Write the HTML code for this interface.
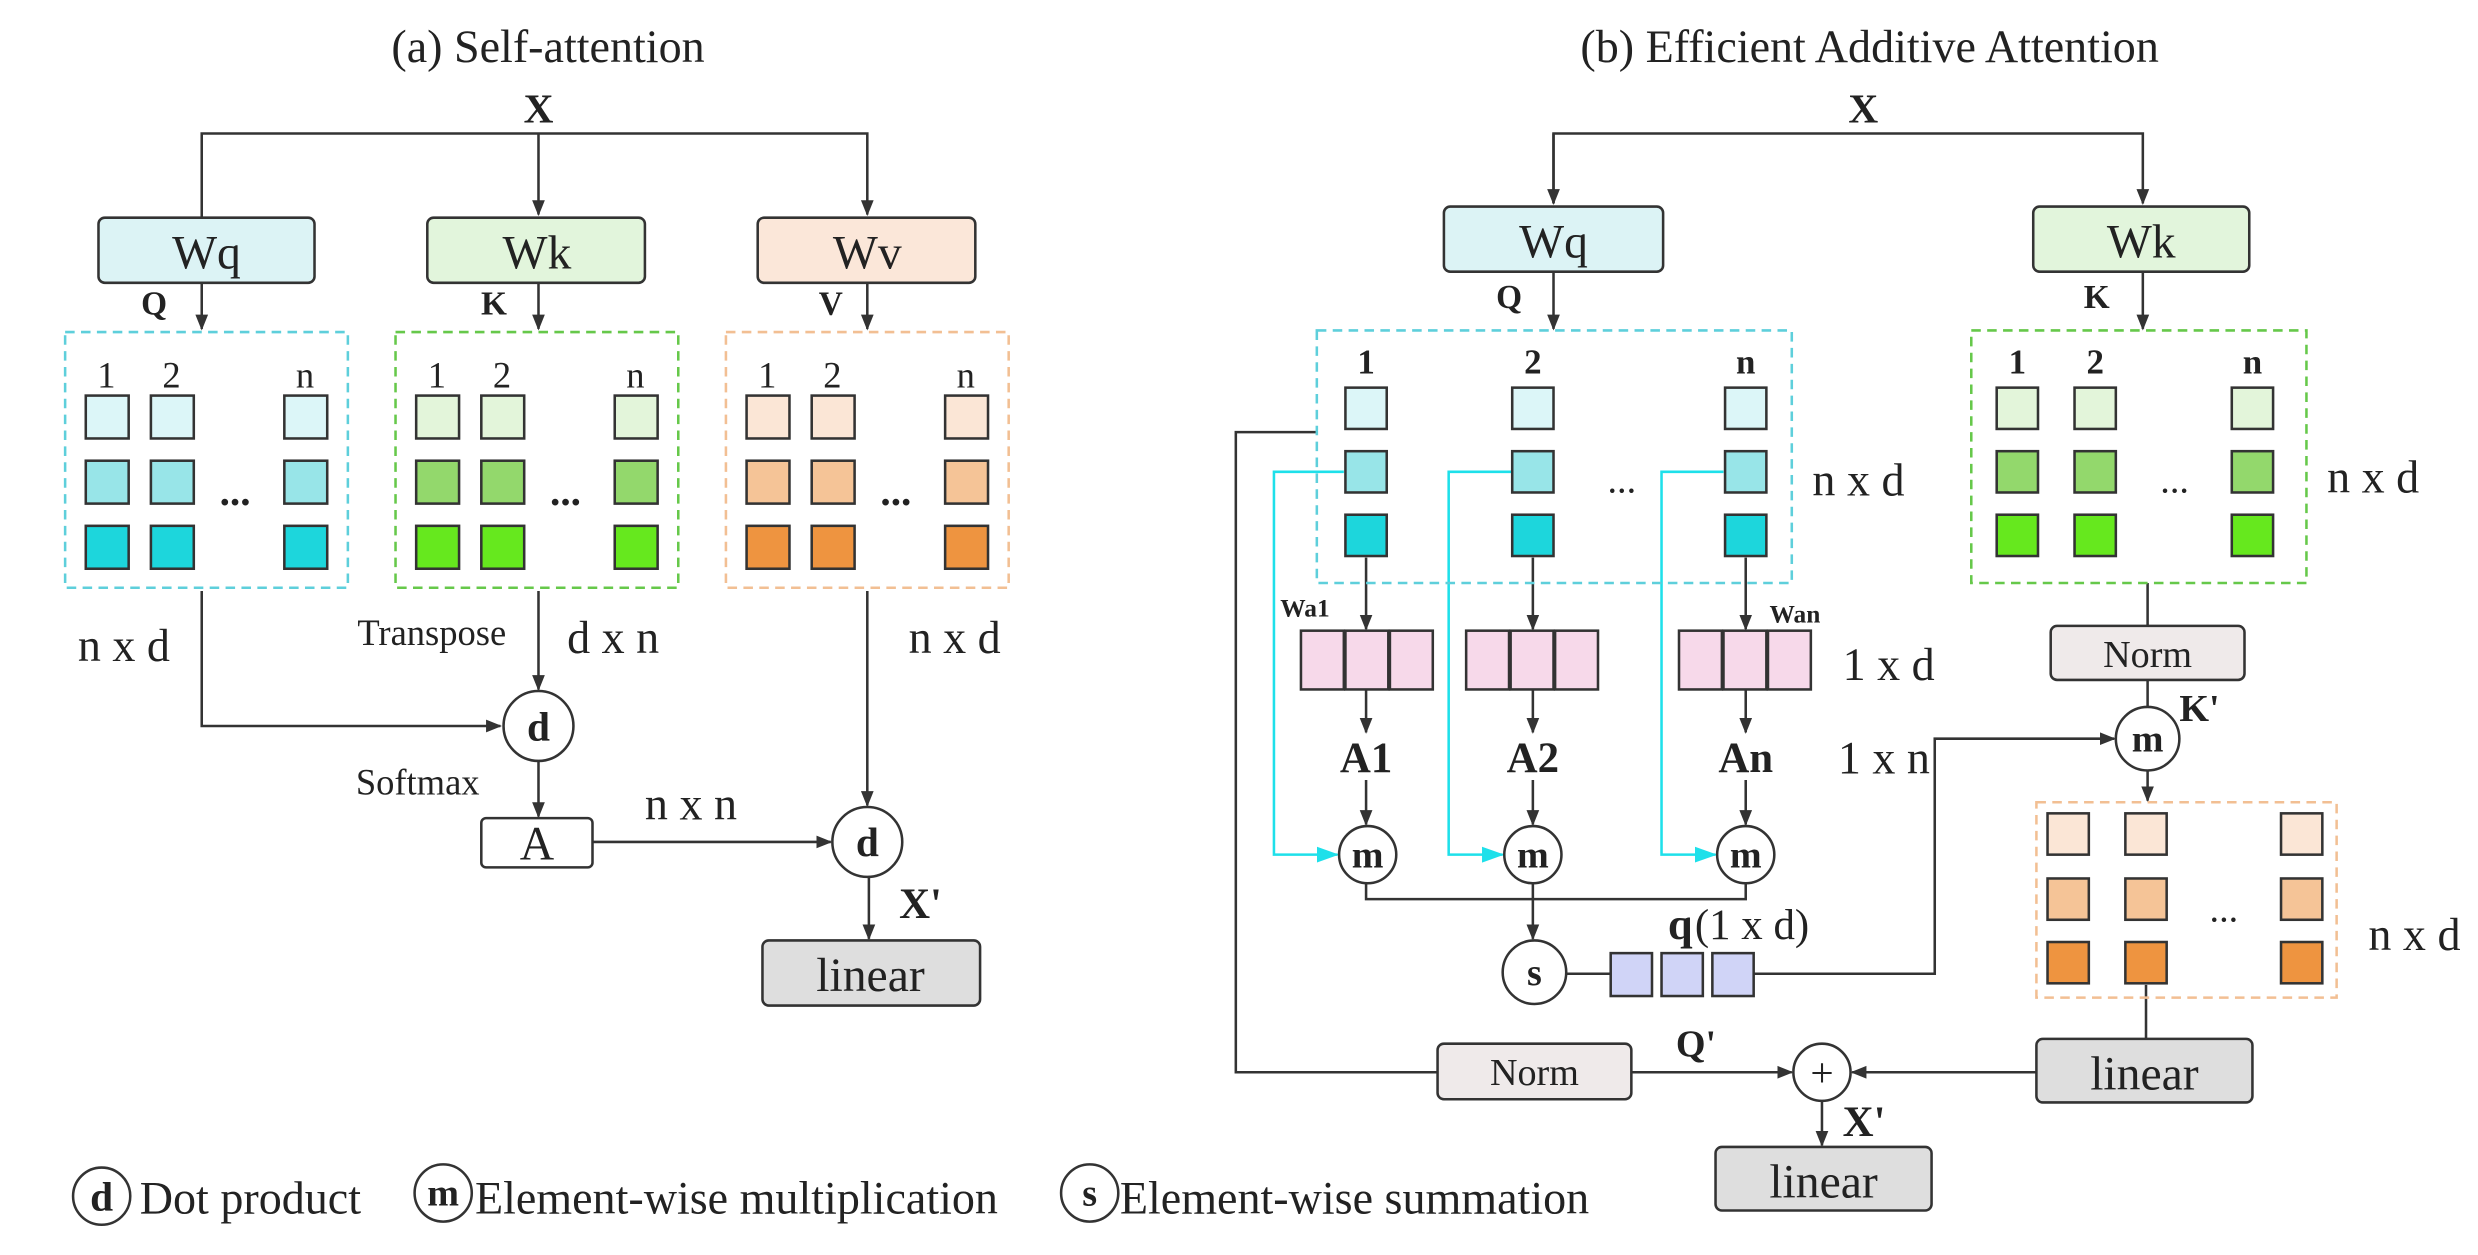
<!DOCTYPE html>
<html><head><style>
html,body{margin:0;padding:0;background:#fff;}
svg{display:block;}
text{font-family:"Liberation Serif",serif;fill:#222;}
</style></head><body>
<svg width="2478" height="1255" viewBox="0 0 1560 790" xmlns="http://www.w3.org/2000/svg">
<defs>
<marker id="ar" markerWidth="10" markerHeight="10" refX="9" refY="5" orient="auto" markerUnits="userSpaceOnUse"><path d="M0,1 L10,5 L0,9 z" fill="#333"/></marker>
<marker id="ac" markerWidth="14" markerHeight="12" refX="13" refY="6" orient="auto" markerUnits="userSpaceOnUse"><path d="M0,1 L14,6 L0,11 z" fill="#1ee0ea"/></marker>
</defs>
<g stroke="#333" stroke-width="1.6" fill="none">
<path d="M127,137 V84 H546 V135" marker-end="url(#ar)"/>
<path d="M339,84 V135" marker-end="url(#ar)"/>
<path d="M127,178 V207" marker-end="url(#ar)"/>
<path d="M339,178 V207" marker-end="url(#ar)"/>
<path d="M546,178 V207" marker-end="url(#ar)"/>
<path d="M127,372 V457 H315" marker-end="url(#ar)"/>
<path d="M339,372 V434" marker-end="url(#ar)"/>
<path d="M339,479 V514" marker-end="url(#ar)"/>
<path d="M373,530 H523" marker-end="url(#ar)"/>
<path d="M546,372 V507" marker-end="url(#ar)"/>
<path d="M547,552 V591" marker-end="url(#ar)"/>
<path d="M978,128 V84 H1349 V128" marker-end="url(#ar)"/>
<path d="M978,84 V128" marker-end="url(#ar)"/>
<path d="M978,171 V207" marker-end="url(#ar)"/>
<path d="M1349,171 V207" marker-end="url(#ar)"/>
<path d="M860,351 V396" marker-end="url(#ar)"/>
<path d="M965,351 V396" marker-end="url(#ar)"/>
<path d="M1099,351 V396" marker-end="url(#ar)"/>
<path d="M860,434 V461" marker-end="url(#ar)"/>
<path d="M965,434 V461" marker-end="url(#ar)"/>
<path d="M1099,434 V461" marker-end="url(#ar)"/>
<path d="M860,491 V519" marker-end="url(#ar)"/>
<path d="M965,491 V519" marker-end="url(#ar)"/>
<path d="M1099,491 V519" marker-end="url(#ar)"/>
<path d="M860,556 V566 H1099 V556"/>
<path d="M965,556 V591" marker-end="url(#ar)"/>
<path d="M986,613 H1014"/>
<path d="M1104,613 H1218 V465 H1331" marker-end="url(#ar)"/>
<path d="M1352,367 V394"/>
<path d="M1352,428 V445"/>
<path d="M1352,485 V504" marker-end="url(#ar)"/>
<path d="M1351,620 V654"/>
<path d="M1282,675 H1166" marker-end="url(#ar)"/>
<path d="M829,272 H778 V675 H905"/>
<path d="M1027,675 H1128" marker-end="url(#ar)"/>
<path d="M1147,693 V721" marker-end="url(#ar)"/>
</g>
<g stroke="#1ee0ea" stroke-width="1.6" fill="none">
<path d="M846,297 H802 V538 H842" marker-end="url(#ac)"/>
<path d="M952,297 H912 V538 H946" marker-end="url(#ac)"/>
<path d="M1085,297 H1046 V538 H1080" marker-end="url(#ac)"/>
</g>
<g stroke="#333" stroke-width="1.6">
<rect x="62" y="137" width="136" height="41" rx="4" fill="#dcf3f5"/>
<rect x="269" y="137" width="137" height="41" rx="4" fill="#e2f5dc"/>
<rect x="477" y="137" width="137" height="41" rx="4" fill="#fbe7d9"/>
<rect x="303" y="515" width="70" height="31" rx="3" fill="#fff"/>
<rect x="480" y="592" width="137" height="41" rx="4" fill="#dedede"/>
<rect x="909" y="130" width="138" height="41" rx="4" fill="#dcf3f5"/>
<rect x="1280" y="130" width="136" height="41" rx="4" fill="#e2f5dc"/>
<rect x="1291" y="394" width="122" height="34" rx="4" fill="#efeaea"/>
<rect x="1282" y="654" width="136" height="40" rx="4" fill="#dedede"/>
<rect x="905" y="657" width="122" height="35" rx="4" fill="#efeaea"/>
<rect x="1080" y="722" width="136" height="40" rx="4" fill="#dedede"/>
</g>
<g fill="none" stroke-width="1.6" stroke-dasharray="6,4">
<rect x="41" y="209" width="178" height="161" stroke="#5ecfdb"/>
<rect x="249" y="209" width="178" height="161" stroke="#66c84a"/>
<rect x="457" y="209" width="178" height="161" stroke="#f2bf93"/>
<rect x="829" y="208" width="299" height="159" stroke="#5ecfdb"/>
<rect x="1241" y="208" width="211" height="159" stroke="#66c84a"/>
<rect x="1282" y="505" width="189" height="123" stroke="#f2bf93"/>
</g>
<g stroke="#333" stroke-width="1.6">
<g fill="#dcf6f8"><rect x="54" y="249" width="27" height="27"/><rect x="95" y="249" width="27" height="27"/><rect x="179" y="249" width="27" height="27"/></g>
<g fill="#98e5e8"><rect x="54" y="290" width="27" height="27"/><rect x="95" y="290" width="27" height="27"/><rect x="179" y="290" width="27" height="27"/></g>
<g fill="#1dd6dc"><rect x="54" y="331" width="27" height="27"/><rect x="95" y="331" width="27" height="27"/><rect x="179" y="331" width="27" height="27"/></g>
<g fill="#e3f5da"><rect x="262" y="249" width="27" height="27"/><rect x="303" y="249" width="27" height="27"/><rect x="387" y="249" width="27" height="27"/></g>
<g fill="#93d86c"><rect x="262" y="290" width="27" height="27"/><rect x="303" y="290" width="27" height="27"/><rect x="387" y="290" width="27" height="27"/></g>
<g fill="#66e81e"><rect x="262" y="331" width="27" height="27"/><rect x="303" y="331" width="27" height="27"/><rect x="387" y="331" width="27" height="27"/></g>
<g fill="#fbe6d6"><rect x="470" y="249" width="27" height="27"/><rect x="511" y="249" width="27" height="27"/><rect x="595" y="249" width="27" height="27"/></g>
<g fill="#f5c497"><rect x="470" y="290" width="27" height="27"/><rect x="511" y="290" width="27" height="27"/><rect x="595" y="290" width="27" height="27"/></g>
<g fill="#ee9440"><rect x="470" y="331" width="27" height="27"/><rect x="511" y="331" width="27" height="27"/><rect x="595" y="331" width="27" height="27"/></g>
<g fill="#dcf6f8"><rect x="847" y="244" width="26" height="26"/><rect x="952" y="244" width="26" height="26"/><rect x="1086" y="244" width="26" height="26"/></g>
<g fill="#98e5e8"><rect x="847" y="284" width="26" height="26"/><rect x="952" y="284" width="26" height="26"/><rect x="1086" y="284" width="26" height="26"/></g>
<g fill="#1dd6dc"><rect x="847" y="324" width="26" height="26"/><rect x="952" y="324" width="26" height="26"/><rect x="1086" y="324" width="26" height="26"/></g>
<g fill="#e3f5da"><rect x="1257" y="244" width="26" height="26"/><rect x="1306" y="244" width="26" height="26"/><rect x="1405" y="244" width="26" height="26"/></g>
<g fill="#93d86c"><rect x="1257" y="284" width="26" height="26"/><rect x="1306" y="284" width="26" height="26"/><rect x="1405" y="284" width="26" height="26"/></g>
<g fill="#66e81e"><rect x="1257" y="324" width="26" height="26"/><rect x="1306" y="324" width="26" height="26"/><rect x="1405" y="324" width="26" height="26"/></g>
<g fill="#fbe6d6"><rect x="1289" y="512" width="26" height="26"/><rect x="1338" y="512" width="26" height="26"/><rect x="1436" y="512" width="26" height="26"/></g>
<g fill="#f5c497"><rect x="1289" y="553" width="26" height="26"/><rect x="1338" y="553" width="26" height="26"/><rect x="1436" y="553" width="26" height="26"/></g>
<g fill="#ee9440"><rect x="1289" y="593" width="26" height="26"/><rect x="1338" y="593" width="26" height="26"/><rect x="1436" y="593" width="26" height="26"/></g>
<g fill="#f7d9ea">
<rect x="819" y="397" width="27" height="37"/><rect x="847" y="397" width="27" height="37"/><rect x="875" y="397" width="27" height="37"/>
<rect x="923" y="397" width="27" height="37"/><rect x="951" y="397" width="27" height="37"/><rect x="979" y="397" width="27" height="37"/>
<rect x="1057" y="397" width="27" height="37"/><rect x="1085" y="397" width="27" height="37"/><rect x="1113" y="397" width="27" height="37"/>
</g>
<g fill="#d0d4f7"><rect x="1014" y="600" width="26" height="27"/><rect x="1046" y="600" width="26" height="27"/><rect x="1078" y="600" width="26" height="27"/></g>
<g fill="#fff">
<circle cx="339" cy="457" r="22"/><circle cx="546" cy="530" r="22"/>
<circle cx="861" cy="538" r="18"/><circle cx="965" cy="538" r="18"/><circle cx="1099" cy="538" r="18"/>
<circle cx="966" cy="612" r="20"/><circle cx="1352" cy="465" r="20"/><circle cx="1147" cy="675" r="18"/>
<circle cx="64" cy="753" r="18"/><circle cx="279" cy="751" r="18"/><circle cx="686" cy="751" r="18"/>
</g>
</g>
<g font-size="29">
<text x="345" y="39" text-anchor="middle">(a) Self-attention</text>
<text x="1177" y="39" text-anchor="middle">(b) Efficient Additive Attention</text>
</g>
<g font-size="26" font-weight="bold" text-anchor="middle">
<text x="339" y="77">X</text><text x="1173" y="77">X</text>
</g>
<g font-size="30" text-anchor="middle">
<text x="130" y="169">Wq</text><text x="338" y="169">Wk</text><text x="546" y="169">Wv</text>
<text x="978" y="162">Wq</text><text x="1348" y="162">Wk</text>
<text x="338" y="541">A</text>
<text x="548" y="624">linear</text><text x="1350" y="686">linear</text><text x="1148" y="754">linear</text>
</g>
<g font-size="24" text-anchor="middle">
<text x="1352" y="420">Norm</text><text x="966" y="683">Norm</text>
</g>
<g font-size="21" font-weight="bold" text-anchor="middle">
<text x="97" y="198">Q</text><text x="311" y="198">K</text><text x="523" y="198">V</text>
<text x="950" y="194">Q</text><text x="1320" y="194">K</text>
</g>
<g font-size="23" text-anchor="middle">
<text x="67" y="244">1</text><text x="108" y="244">2</text><text x="192" y="244">n</text>
<text x="275" y="244">1</text><text x="316" y="244">2</text><text x="400" y="244">n</text>
<text x="483" y="244">1</text><text x="524" y="244">2</text><text x="608" y="244">n</text>
</g>
<g font-size="22" font-weight="bold" text-anchor="middle">
<text x="860" y="235">1</text><text x="965" y="235">2</text><text x="1099" y="235">n</text>
<text x="1270" y="235">1</text><text x="1319" y="235">2</text><text x="1418" y="235">n</text>
<text x="148" y="318" font-size="26">...</text><text x="356" y="318" font-size="26">...</text><text x="564" y="318" font-size="26">...</text>
</g>
<g font-size="24" text-anchor="middle">
<text x="1021" y="310">...</text><text x="1369" y="310">...</text><text x="1400" y="580">...</text>
</g>
<g font-size="29">
<text x="49" y="416">n x d</text><text x="357" y="411">d x n</text><text x="572" y="411">n x d</text>
<text x="406" y="516">n x n</text>
<text x="1141" y="312">n x d</text><text x="1465" y="310">n x d</text>
<text x="1160" y="428">1 x d</text><text x="1157" y="487">1 x n</text>
<text x="1491" y="598">n x d</text>
<text x="1067" y="591" font-size="27">(1 x d)</text>
</g>
<g font-size="23">
<text x="225" y="406">Transpose</text><text x="224" y="500">Softmax</text>
</g>
<g font-weight="bold">
<text x="566" y="578" font-size="27">X'</text>
<text x="1160" y="715" font-size="27">X'</text>
<text x="1050" y="591" font-size="28">q</text>
<text x="1372" y="454" font-size="24">K'</text>
<text x="1055" y="665" font-size="24">Q'</text>
<text x="806" y="388" font-size="16">Wa1</text>
<text x="1114" y="392" font-size="16">Wan</text>
<text x="860" y="486" font-size="27" text-anchor="middle">A1</text>
<text x="965" y="486" font-size="27" text-anchor="middle">A2</text>
<text x="1099" y="486" font-size="27" text-anchor="middle">An</text>
</g>
<g font-weight="bold" text-anchor="middle">
<text x="339" y="466" font-size="26">d</text><text x="546" y="539" font-size="26">d</text>
<text x="861" y="546" font-size="24">m</text><text x="965" y="546" font-size="24">m</text><text x="1099" y="546" font-size="24">m</text>
<text x="966" y="620" font-size="24">s</text><text x="1352" y="473" font-size="24">m</text>
<text x="64" y="762" font-size="26">d</text><text x="279" y="759" font-size="24">m</text><text x="686" y="759" font-size="24">s</text>
</g>
<text x="1147" y="684" font-size="26" text-anchor="middle">+</text>
<g font-size="29">
<text x="88" y="764">Dot product</text>
<text x="299" y="764">Element-wise multiplication</text>
<text x="705" y="764">Element-wise summation</text>
</g>
</svg>
</body></html>
